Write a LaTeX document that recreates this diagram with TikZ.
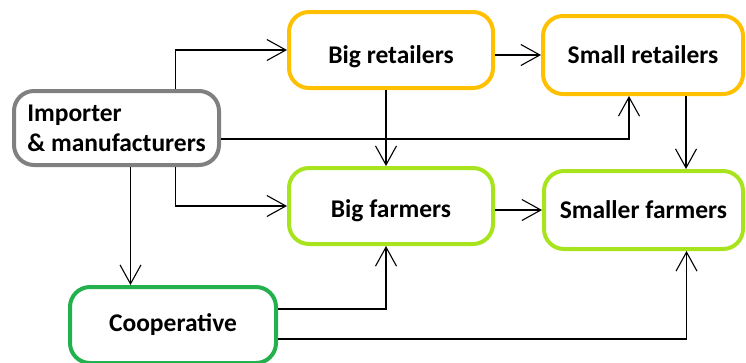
\documentclass[tikz,border=0pt]{standalone}
\usepackage{fontspec}
\setmainfont{Carlito}
\usetikzlibrary{arrows.meta, calc, positioning}

\definecolor{boxgray}{RGB}{128,128,128}
\definecolor{boxyellow}{RGB}{255,192,0}
\definecolor{boxlime}{RGB}{168,228,30}
\definecolor{boxgreen}{RGB}{34,177,76}

\begin{document}
\begin{tikzpicture}[x=1pt, y=1pt,
node distance = 76pt and 46pt,
every node/.style = {draw, line width=4pt, rounded corners=20pt,
                     minimum width=204pt, minimum height=76pt,
                     font=\fontsize{25.5}{30}\selectfont\bfseries,
                     align=center},
retail/.style = {draw=boxyellow},
farm/.style = {draw=boxlime},
flow/.style = {line width=1.2pt, -{Straight Barb[length=19pt,width=21pt,line width=1.1pt]}},
                    ]
%---
\useasboundingbox (0,0) rectangle (746,-362);

\node (imp) [draw=boxgray, minimum width=205pt, minimum height=74pt, align=left]
      at (116.5,-128) {Importer\\\& manufacturers};

\node (bret) [retail, above right=-1pt and 66pt of imp,
              text height=26pt, text depth=0pt] {Big retailers};
\node (sret) [retail, right=46pt of bret, yshift=-5pt,
              minimum width=200pt, minimum height=78pt] {Small retailers};
\node (bfarm) [farm, below=76pt of bret,
               text height=22pt, text depth=0pt] {Big farmers};
\node (sfarm) [farm, right=47pt of bfarm, yshift=-4pt,
               minimum width=199pt, minimum height=78pt] {Smaller farmers};
\node (coop) [draw=boxgreen, minimum width=206pt,
              below=118pt of imp, xshift=56.5pt] {Cooperative};

\draw[flow] ([xshift=59pt]imp.north) |- (bret);
\draw[flow] ([yshift=-11pt]imp.east) -| ([xshift=-14pt]sret.south);
\draw[flow] ([xshift=14pt]imp.south) -- ([xshift=14pt]imp.south |- coop.north);
\draw[flow] ([xshift=59pt]imp.south) |- (bfarm);

\draw[flow] ([xshift=-5pt]bret.south) -- ([xshift=-5pt]bret.south |- bfarm.north);
\draw[flow] (sret.west -| bret.east) -- (sret.west);
\draw[flow] ([xshift=43pt]sret.south) -- ([xshift=43pt]sret.south |- sfarm.north);
\draw[flow] (sfarm.west -| bfarm.east) -- (sfarm.west);

\draw[flow] ([yshift=16pt]coop.east) -| ([xshift=-5pt]bfarm.south);
\draw[flow] ([yshift=-14pt]coop.east) -| ([xshift=43pt]sfarm.south);

\end{tikzpicture}
\end{document}
